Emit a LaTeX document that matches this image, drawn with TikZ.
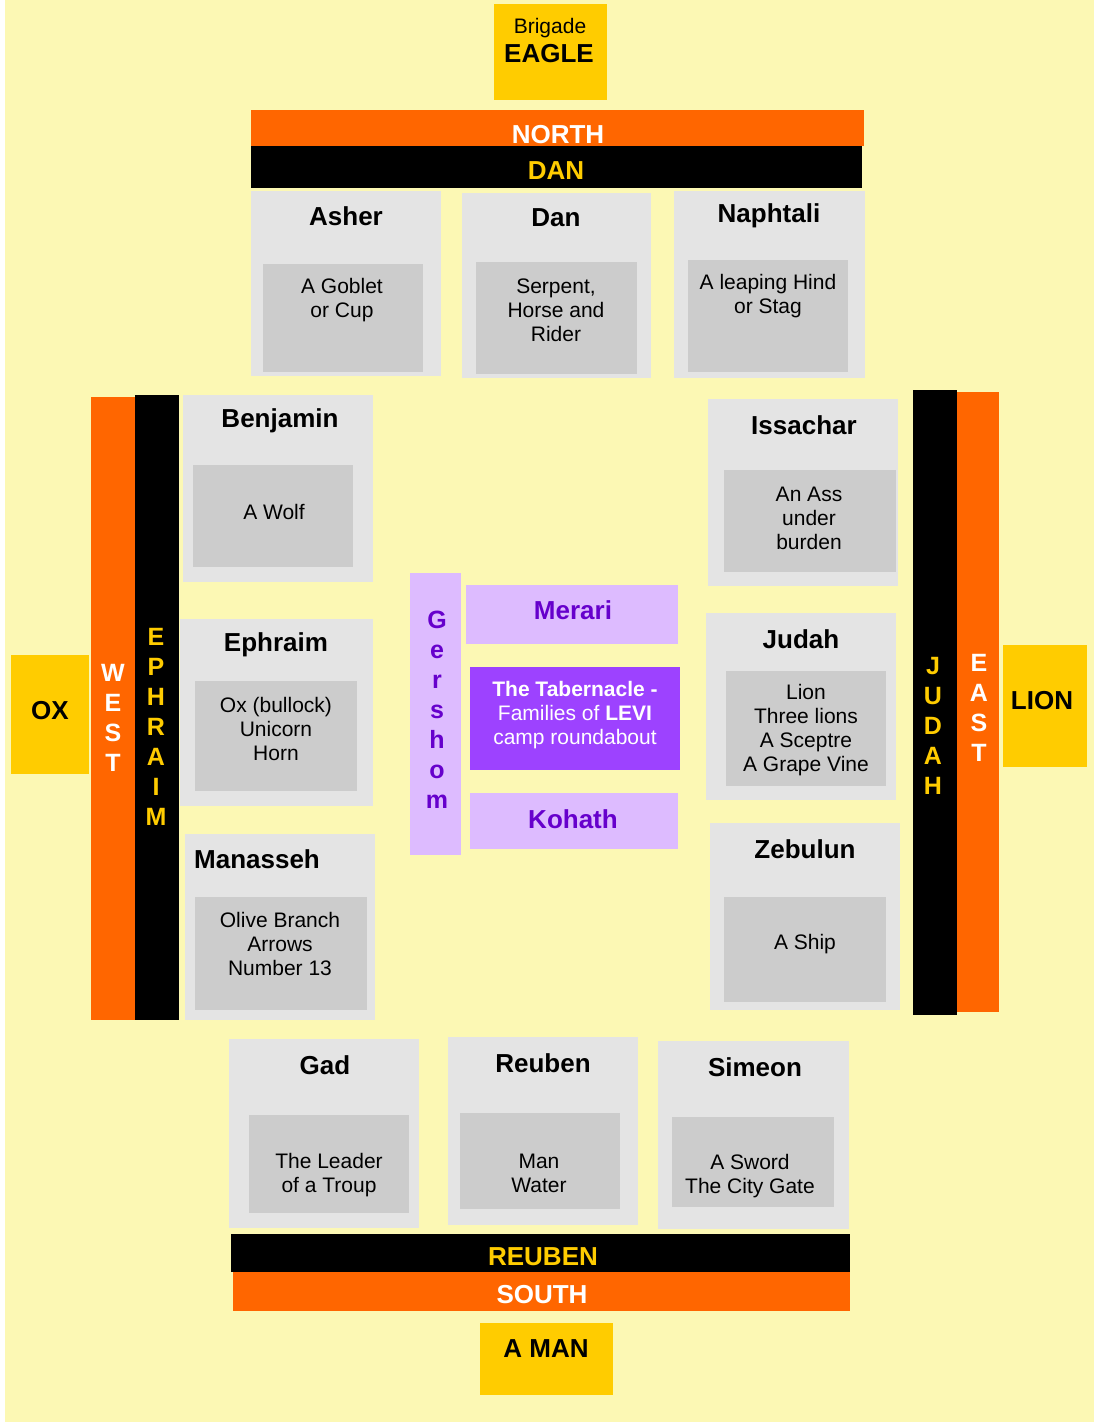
\documentclass[tikz,border=0pt]{standalone}
\usepackage{fontspec}
\setmainfont{Liberation Sans}
\definecolor{bgyellow}{HTML}{FCF8B4}
\definecolor{gold}{HTML}{FFCC00}
\definecolor{orng}{HTML}{FF6600}
\definecolor{outergray}{HTML}{E4E4E4}
\definecolor{innergray}{HTML}{CCCCCC}
\definecolor{lavender}{HTML}{DDBBFF}
\definecolor{tabpurple}{HTML}{9D42FF}
\definecolor{levitext}{HTML}{6600CC}
\newcommand\rbox[6]{\node[#2, minimum width={#5-#3}, minimum height={#6-#4}] (#1) at ({(#3+#5)/2},{(#4+#6)/2}) {};}
\begin{document}
\begin{tikzpicture}[x=1pt,y=-1pt,
  every node/.style={inner sep=0pt, outer sep=0pt},
  goldbox/.style={fill=gold},
  orangebar/.style={fill=orng},
  blackbar/.style={fill=black},
  outerbox/.style={fill=outergray},
  innerbox/.style={fill=innergray},
  levibox/.style={fill=lavender},
  tabbox/.style={fill=tabpurple},
  title/.style={font=\fontsize{26}{30}\selectfont\bfseries, text=black},
  body/.style={font=\fontsize{21}{24}\selectfont, align=center, text=black},
  bigword/.style={font=\fontsize{26}{30}\selectfont\bfseries},
  vletters/.style={font=\fontsize{25}{30}\selectfont\bfseries, align=center},
  levititle/.style={font=\fontsize{26}{30}\selectfont\bfseries, text=levitext},
]
\useasboundingbox (0,0) rectangle (1094,1422);
\fill[white] (0,0) rectangle (1094,1422);
\fill[bgyellow] (5,0) rectangle (1094,1422);

% North
\rbox{eagle}{goldbox}{494}{4}{607}{100}
\node[font=\fontsize{21}{24}\selectfont] (brigadetxt) at (550,28) {Brigade};
\node[bigword] (eagletxt) at (549,54) {EAGLE};
\rbox{north}{orangebar}{251}{110}{864}{146}
\node[bigword, text=white] (northtxt) at (558,135) {NORTH};
\rbox{danbar}{blackbar}{251}{146}{862}{188}
\node[bigword, text=gold] (dantxt) at (556,171) {DAN};

\rbox{asher}{outerbox}{251}{191}{441}{376}
\rbox{asherin}{innerbox}{263}{264}{423}{372}
\node[title] (ashert) at (346,216) {Asher};
\node[body] (asherb) at (342,300) {A Goblet\\or Cup};

\rbox{dan}{outerbox}{462}{193}{651}{378}
\rbox{danin}{innerbox}{476}{262}{637}{374}
\node[title] (dant) at (556,218) {Dan};
\node[body] (danb) at (556,310) {Serpent,\\Horse and\\Rider};

\rbox{naph}{outerbox}{674}{191}{865}{378}
\rbox{naphin}{innerbox}{688}{260}{848}{372}
\node[title] (napht) at (769,216) {Naphtali};
\node[body] (naphb) at (768,296) {A leaping Hind\\or Stag};

% West
\rbox{ox}{goldbox}{11}{655}{89}{774}
\node[bigword] (oxtxt) at (50,711) {OX};
\rbox{west}{orangebar}{91}{397}{135}{1020}
\node[vletters, text=white] (westtxt) at (113,718) {W\\E\\S\\T};
\rbox{ephbar}{blackbar}{135}{395}{179}{1020}
\node[vletters, text=gold] (ephtxt) at (156,727) {E\\P\\H\\R\\A\\I\\M};

\rbox{benj}{outerbox}{183}{395}{373}{582}
\rbox{benjin}{innerbox}{193}{465}{353}{567}
\node[title] (benjt) at (280,421) {Benjamin};
\node[body] (benjb) at (274,512) {A Wolf};

\rbox{ephr}{outerbox}{180}{619}{373}{806}
\rbox{ephrin}{innerbox}{195}{681}{357}{791}
\node[title] (ephrt) at (276,645) {Ephraim};
\node[body] (ephrb) at (276,729) {Ox (bullock)\\Unicorn\\Horn};

\rbox{mana}{outerbox}{185}{834}{375}{1020}
\rbox{manain}{innerbox}{195}{897}{367}{1010}
\node[title] (manat) at (257,859) {Manasseh};
\node[body] (manab) at (280,944) {Olive Branch\\Arrows\\Number 13};

% Centre: Levi
\rbox{gershom}{levibox}{410}{573}{461}{855}
\node[vletters, text=levitext] (gershomtxt) at (437,710) {G\\e\\r\\s\\h\\o\\m};
\rbox{merari}{levibox}{466}{585}{678}{644}
\node[levititle] (meraritxt) at (573,610) {Merari};
\rbox{tab}{tabbox}{470}{667}{680}{770}
\node[body, text=white] (tabtxt) at (575,715) {\textbf{The Tabernacle -}\\Families of \textbf{LEVI}\\camp roundabout};
\rbox{kohath}{levibox}{470}{793}{678}{849}
\node[levititle] (kohathtxt) at (573,819) {Kohath};

% East
\rbox{issa}{outerbox}{708}{399}{898}{586}
\rbox{issain}{innerbox}{724}{470}{896}{572}
\node[title] (issat) at (804,425) {Issachar};
\node[body] (issab) at (809,518) {An Ass\\under\\burden};

\rbox{judah}{outerbox}{706}{613}{896}{800}
\rbox{judahin}{innerbox}{726}{671}{886}{786}
\node[title] (judaht) at (801,639) {Judah};
\node[body] (judahb) at (806,730) {Lion\\Three lions\\A Sceptre\\A Grape Vine};

\rbox{zeb}{outerbox}{710}{823}{900}{1010}
\rbox{zebin}{innerbox}{724}{897}{886}{1002}
\node[title] (zebt) at (805,849) {Zebulun};
\node[body] (zebb) at (805,944) {A Ship};

\rbox{judbar}{blackbar}{913}{390}{957}{1015}
\node[vletters, text=gold] (judtxt) at (933,726) {J\\U\\D\\A\\H};
\rbox{east}{orangebar}{957}{392}{999}{1012}
\node[vletters, text=white] (easttxt) at (979,708) {E\\A\\S\\T};
\rbox{lion}{goldbox}{1003}{645}{1087}{767}
\node[bigword] (liontxt) at (1042,701) {LION};

% South
\rbox{gad}{outerbox}{229}{1039}{419}{1228}
\rbox{gadin}{innerbox}{249}{1115}{409}{1213}
\node[title] (gadt) at (325,1065) {Gad};
\node[body] (gadb) at (329,1175) {The Leader\\of a Troup};

\rbox{reub}{outerbox}{448}{1037}{638}{1225}
\rbox{reubin}{innerbox}{460}{1113}{620}{1209}
\node[title] (reubt) at (543,1063) {Reuben};
\node[body] (reubb) at (539,1173) {Man\\Water};

\rbox{sim}{outerbox}{658}{1041}{849}{1229}
\rbox{simin}{innerbox}{672}{1117}{834}{1207}
\node[title] (simt) at (755,1067) {Simeon};
\node[body] (simb) at (750,1176) {A Sword\\The City Gate};

\rbox{reubbar}{blackbar}{231}{1234}{850}{1272}
\node[bigword, text=gold] (reubbartxt) at (543,1257) {REUBEN};
\rbox{south}{orangebar}{233}{1272}{850}{1311}
\node[bigword, text=white] (southtxt) at (542,1295) {SOUTH};
\rbox{aman}{goldbox}{480}{1323}{613}{1395}
\node[bigword] (amantxt) at (546,1349) {A MAN};
\end{tikzpicture}
\end{document}
